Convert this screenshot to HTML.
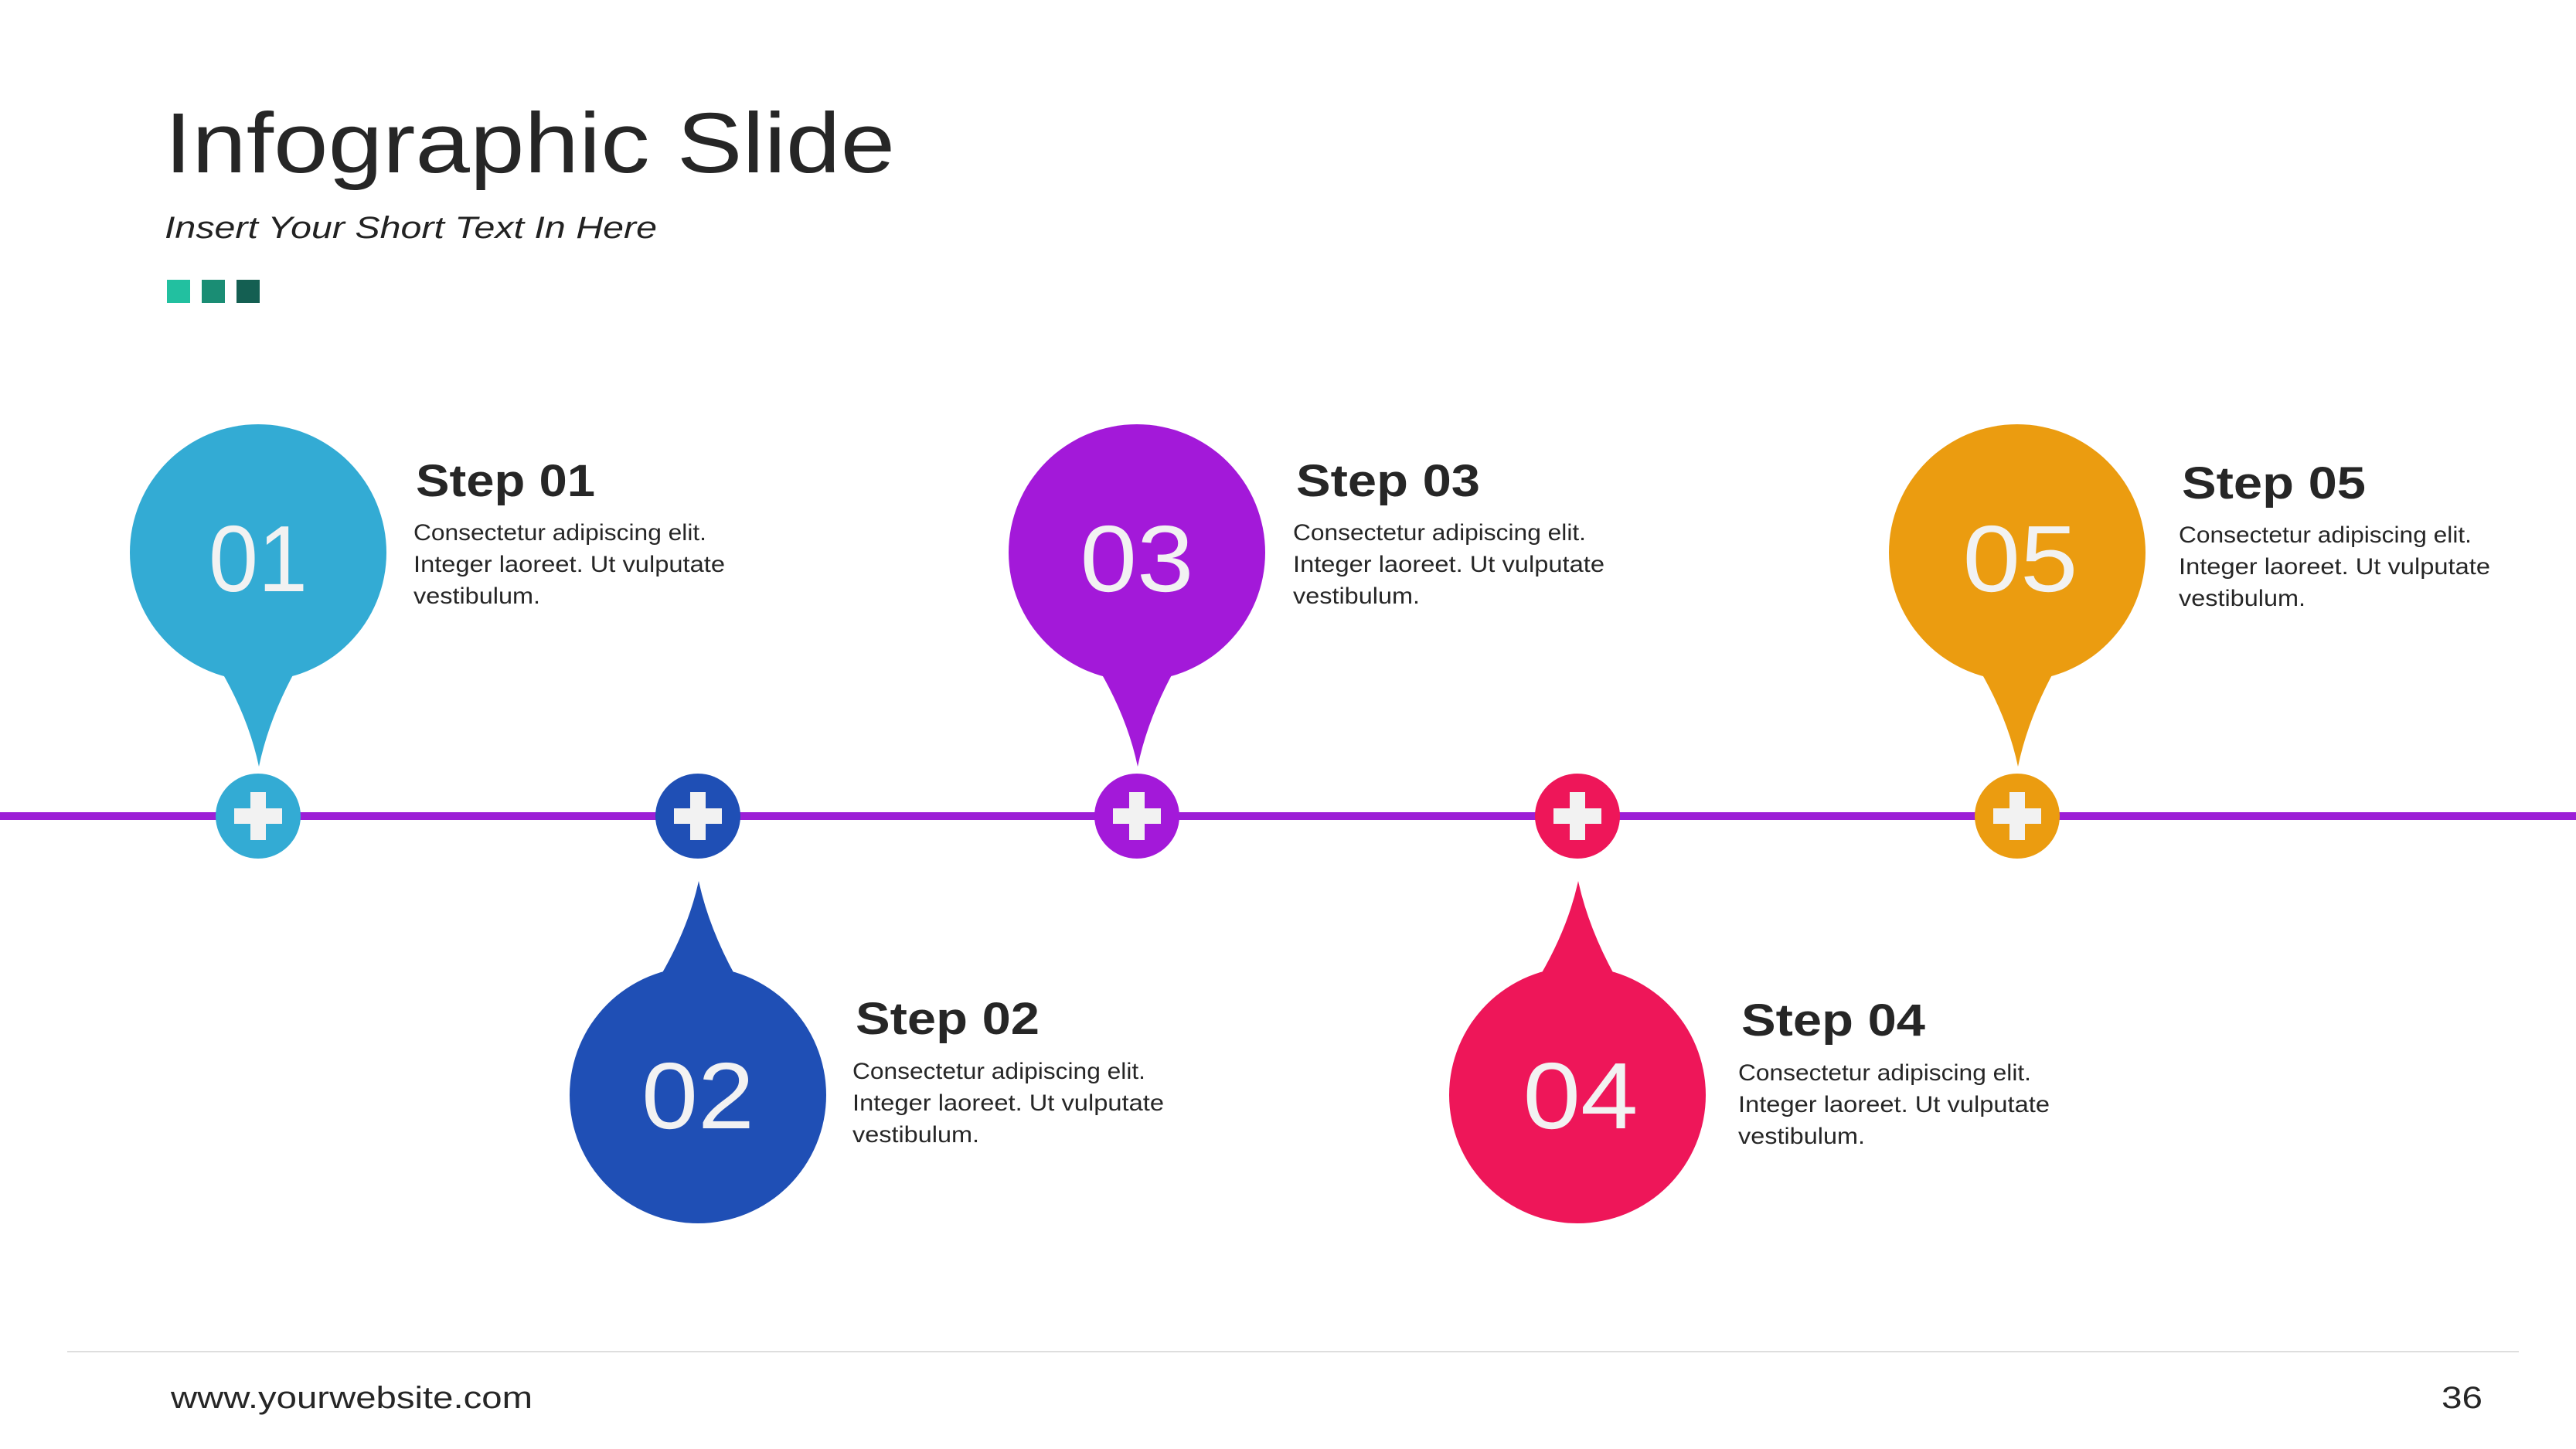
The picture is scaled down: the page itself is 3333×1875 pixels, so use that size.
<!DOCTYPE html>
<html><head><meta charset="utf-8"><style>
html,body{margin:0;padding:0;background:#fff;}
svg{display:block}
text{font-family:"Liberation Sans",sans-serif}
</style></head><body>
<svg width="3333" height="1875" viewBox="0 0 3333 1875" xmlns="http://www.w3.org/2000/svg">
<rect width="3333" height="1875" fill="#fff"/>
<text x="213" y="223" font-size="110" fill="#262626" textLength="945" lengthAdjust="spacingAndGlyphs">Infographic Slide</text>
<text x="213" y="308" font-size="40" font-style="italic" fill="#222" textLength="637" lengthAdjust="spacingAndGlyphs">Insert Your Short Text In Here</text>
<rect x="216" y="362" width="30" height="30" fill="#22c0a0"/>
<rect x="261" y="362" width="30" height="30" fill="#1a8d74"/>
<rect x="306" y="362" width="30" height="30" fill="#145f52"/>

<rect x="0" y="1051" width="3333" height="10" fill="#9c1fd6"/>

<defs>
<g id="plus"><rect x="-31" y="-10" width="62" height="20" fill="#f2f2f2"/><rect x="-10" y="-31" width="20" height="62" fill="#f2f2f2"/></g>
</defs>

<!-- pin 01 -->
<g fill="#33abd4">
<circle cx="334" cy="715" r="166"/>
<path d="M286,868 Q322,930 335,992 Q348,930 382,868 Z"/>
<circle cx="334" cy="1056" r="55"/>
</g>
<use href="#plus" x="334" y="1056"/>
<text x="334" y="765" font-size="122" fill="#f2f2f2" text-anchor="middle" textLength="128" lengthAdjust="spacingAndGlyphs">01</text>

<!-- pin 02 -->
<g fill="#1f4fb5">
<circle cx="903" cy="1417" r="166"/>
<path d="M855,1262 Q891,1200 904,1140 Q917,1200 951,1262 Z"/>
<circle cx="903" cy="1056" r="55"/>
</g>
<use href="#plus" x="903" y="1056"/>
<text x="903" y="1460" font-size="122" fill="#f2f2f2" text-anchor="middle" textLength="146" lengthAdjust="spacingAndGlyphs">02</text>

<!-- pin 03 -->
<g fill="#a319d9">
<circle cx="1471" cy="715" r="166"/>
<path d="M1423,868 Q1459,930 1472,992 Q1485,930 1519,868 Z"/>
<circle cx="1471" cy="1056" r="55"/>
</g>
<use href="#plus" x="1471" y="1056"/>
<text x="1471" y="765" font-size="122" fill="#f2f2f2" text-anchor="middle" textLength="147" lengthAdjust="spacingAndGlyphs">03</text>

<!-- pin 04 -->
<g fill="#ee1659">
<circle cx="2041" cy="1417" r="166"/>
<path d="M1993,1262 Q2029,1200 2042,1140 Q2055,1200 2089,1262 Z"/>
<circle cx="2041" cy="1056" r="55"/>
</g>
<use href="#plus" x="2041" y="1056"/>
<text x="2045" y="1460" font-size="122" fill="#f2f2f2" text-anchor="middle" textLength="149" lengthAdjust="spacingAndGlyphs">04</text>

<!-- pin 05 -->
<g fill="#eb9c10">
<circle cx="2610" cy="715" r="166"/>
<path d="M2562,868 Q2598,930 2611,992 Q2624,930 2658,868 Z"/>
<circle cx="2610" cy="1056" r="55"/>
</g>
<use href="#plus" x="2610" y="1056"/>
<text x="2614" y="765" font-size="122" fill="#f2f2f2" text-anchor="middle" textLength="149" lengthAdjust="spacingAndGlyphs">05</text>

<!-- texts -->
<g fill="#262626">
<text x="538" y="642" font-size="58" font-weight="bold" textLength="232" lengthAdjust="spacingAndGlyphs">Step 01</text>
<text x="1677" y="642" font-size="58" font-weight="bold" textLength="238" lengthAdjust="spacingAndGlyphs">Step 03</text>
<text x="2823" y="645" font-size="58" font-weight="bold" textLength="238" lengthAdjust="spacingAndGlyphs">Step 05</text>
<text x="1107" y="1338" font-size="58" font-weight="bold" textLength="238" lengthAdjust="spacingAndGlyphs">Step 02</text>
<text x="2253" y="1340" font-size="58" font-weight="bold" textLength="238" lengthAdjust="spacingAndGlyphs">Step 04</text>
</g>
<g fill="#262626" font-size="30">
<text x="535" y="699" textLength="379" lengthAdjust="spacingAndGlyphs">Consectetur adipiscing elit.</text>
<text x="535" y="740" textLength="403" lengthAdjust="spacingAndGlyphs">Integer laoreet. Ut vulputate</text>
<text x="535" y="781" textLength="164" lengthAdjust="spacingAndGlyphs">vestibulum.</text>

<text x="1673" y="699" textLength="379" lengthAdjust="spacingAndGlyphs">Consectetur adipiscing elit.</text>
<text x="1673" y="740" textLength="403" lengthAdjust="spacingAndGlyphs">Integer laoreet. Ut vulputate</text>
<text x="1673" y="781" textLength="164" lengthAdjust="spacingAndGlyphs">vestibulum.</text>

<text x="2819" y="702" textLength="379" lengthAdjust="spacingAndGlyphs">Consectetur adipiscing elit.</text>
<text x="2819" y="743" textLength="403" lengthAdjust="spacingAndGlyphs">Integer laoreet. Ut vulputate</text>
<text x="2819" y="784" textLength="164" lengthAdjust="spacingAndGlyphs">vestibulum.</text>

<text x="1103" y="1396" textLength="379" lengthAdjust="spacingAndGlyphs">Consectetur adipiscing elit.</text>
<text x="1103" y="1437" textLength="403" lengthAdjust="spacingAndGlyphs">Integer laoreet. Ut vulputate</text>
<text x="1103" y="1478" textLength="164" lengthAdjust="spacingAndGlyphs">vestibulum.</text>

<text x="2249" y="1398" textLength="379" lengthAdjust="spacingAndGlyphs">Consectetur adipiscing elit.</text>
<text x="2249" y="1439" textLength="403" lengthAdjust="spacingAndGlyphs">Integer laoreet. Ut vulputate</text>
<text x="2249" y="1480" textLength="164" lengthAdjust="spacingAndGlyphs">vestibulum.</text>
</g>

<rect x="87" y="1748" width="3172" height="2" fill="#dedede"/>
<text x="221" y="1822" font-size="40" fill="#262626" textLength="468" lengthAdjust="spacingAndGlyphs">www.yourwebsite.com</text>
<text x="3159" y="1822" font-size="40" fill="#262626" textLength="53" lengthAdjust="spacingAndGlyphs">36</text>
</svg>
</body></html>
